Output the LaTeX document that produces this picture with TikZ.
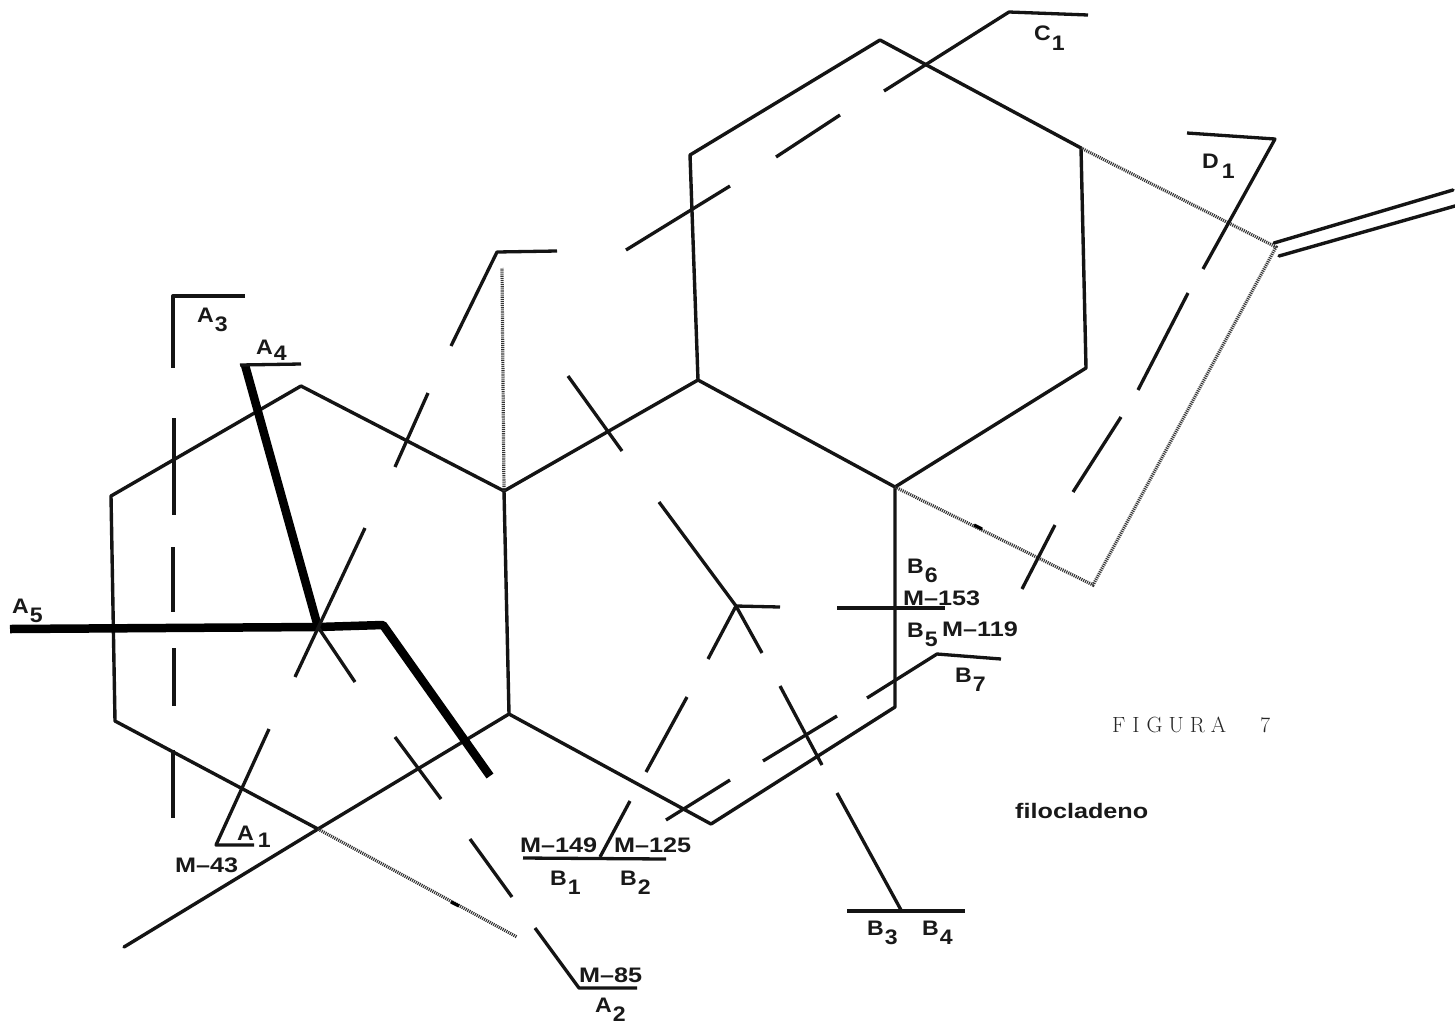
\documentclass[tikz,border=0pt]{standalone}
\usepackage{fontspec}
\setsansfont[FakeStretch=1.1]{Liberation Sans}
\newfontfamily\widelab[FakeStretch=1.2]{Liberation Sans}
\newcommand{\lbl}[2]{#1\kern1pt\raisebox{-9pt}{#2}}
\begin{document}
\begin{tikzpicture}[x=1pt,y=-1pt,
  bond/.style={line width=3.4pt,black!92,line cap=round,line join=round},
  frag/.style={line width=3.3pt,black!92,line join=round},
  heavy/.style={line width=8.5pt,black,line join=round},
  dotb/.style={line width=3.2pt,black!80,dash pattern=on 1.1pt off 1pt},
  lab/.style={font=\widelab\bfseries\fontsize{21}{22}\selectfont,inner sep=0pt,text=black!90,anchor=base west},
  subl/.style={font=\sffamily\bfseries\fontsize{21}{22}\selectfont,inner sep=0pt,text=black!90,anchor=base west}]
\useasboundingbox (0,0) rectangle (1455,1023);
\fill[white] (0,0) rectangle (1455,1023);
% atoms
\foreach \n/\p in {a/{111,496},b/{301,386},c/{504,491},d/{509,714},e/{318,829},f/{115,721},
  g/{698,380},h/{895,487},i/{895,707},j/{711,824},k/{690,155},l/{880,40},m/{1081,148},n/{1086,368},
  o/{1276,247},p/{1093,585},q/{124,947},r/{517,937},s/{502,268},t/{383,625},u/{318,627}}
  {\coordinate (\n) at (\p);}
\draw[bond] (e)--(f)--(a)--(b)--(c)--(d)--(e);
\draw[bond] (e)--(q);
\draw[bond] (c)--(g)--(h)--(i)--(j)--(d);
\draw[bond] (g)--(k)--(l)--(m)--(n)--(h);
\draw[dotb] (e)--(r);
\draw[dotb] (c)--(s);
\draw[dotb] (h)--(p)--(o)--(m);
\draw[bond] (1274,243)--(1453,190);
\draw[bond] (1279,256)--(1455,206);
\draw[line width=3.2pt] (451,902)--(459,906);
\draw[line width=3.2pt] (974,525)--(982,529);
% heavy
\draw[heavy] (10,629)--(u)--(t)--(490,776);
\draw[heavy] (245,365)--(u);
\draw[frag] (240,365)--(301,364);
% A3
\draw[frag] (245,296)--(173,296)--(173,368);
\draw[frag] (174,418)--(174,515);
\draw[frag] (173,547)--(173,612);
\draw[frag] (174,648)--(174,706);
\draw[frag] (173,750)--(173,818);
% A1
\draw[frag] (269,729)--(216,845)--(254,845);
% hub spokes
\draw[frag] (365,528)--(295,677);
\draw[frag] (u)--(355,682);
% A2
\draw[frag] (395,737)--(441,799);
\draw[frag] (470,839)--(512,897);
\draw[frag] (535,928)--(579,988)--(637,988);
% upper left fragment
\draw[frag] (557,251)--(497,252)--(451,346);
\draw[frag] (428,393)--(395,467);
% C1
\draw[frag] (1088,15)--(1009,12)--(884,91);
\draw[frag] (840,115)--(776,157);
\draw[frag] (730,186)--(626,250);
% D1
\draw[frag] (1187,133)--(1275,139)--(1203,269);
\draw[frag] (1188,293)--(1138,390);
\draw[frag] (1121,417)--(1073,492);
\draw[frag] (1055,525)--(1022,589);
% g-side cross
\draw[frag] (568,376)--(622,451);
% central star
\draw[frag] (659,502)--(736,606)--(780,607);
\draw[frag] (736,606)--(708,659);
\draw[frag] (736,606)--(762,653);
\draw[frag] (837,608)--(945,608);
\draw[frag] (687,697)--(646,772);
\draw[frag] (630,801)--(600,857);
\draw[frag] (523,858)--(666,859);
\draw[frag] (780,686)--(822,765);
\draw[frag] (837,793)--(901,910);
\draw[frag] (847,911)--(965,911);
% B7
\draw[frag] (867,698)--(937,654)--(1001,659);
\draw[frag] (837,716)--(763,761);
\draw[frag] (730,780)--(666,820);
% labels
\node[subl] (la3) at (197,322) {\lbl{A}{3}};
\node[subl] (la4) at (256,354) {A\kern1pt\raisebox{-6pt}{4}};
\node[subl] (la5) at (12,613) {\lbl{A}{5}};
\node[subl] (la1) at (237,840) {A\kern4pt\raisebox{-7pt}{1}};
\node[subl] (la2) at (595,1012) {\lbl{A}{2}};
\node[subl] (lc1) at (1034,40) {C\kern1pt\raisebox{-10pt}{1}};
\node[subl] (ld1) at (1202,168) {D\kern3pt\raisebox{-10pt}{1}};
\node[subl] (lb6) at (907,573) {\lbl{B}{6}};
\node[subl] (lb5) at (907,637) {\lbl{B}{5}};
\node[subl] (lb7) at (955,682) {\lbl{B}{7}};
\node[subl] (lb1) at (550,885) {\lbl{B}{1}};
\node[subl] (lb2) at (620,885) {\lbl{B}{2}};
\node[subl] (lb3) at (867,935) {\lbl{B}{3}};
\node[subl] (lb4) at (922,935) {\lbl{B}{4}};
\node[lab] (m43) at (175,872) {M–43};
\node[lab] (m149) at (520,852) {M–149};
\node[lab] (m125) at (614,852) {M–125};
\node[lab] (m153) at (903,605) {M–153};
\node[lab] (m119) at (942,636) {M–119};
\node[lab] (m85) at (579,982) {M–85};
\node[font=\rmfamily\fontsize{22}{24}\selectfont,anchor=base west,inner sep=0pt,text=black!85] (fig) at (1112,732) {F\kern7pt I\kern7pt G\kern6pt U\kern6pt R\kern6pt A\kern34pt 7};
\node[lab] (fil) at (1015,818) {filocladeno};
\end{tikzpicture}
\end{document}
